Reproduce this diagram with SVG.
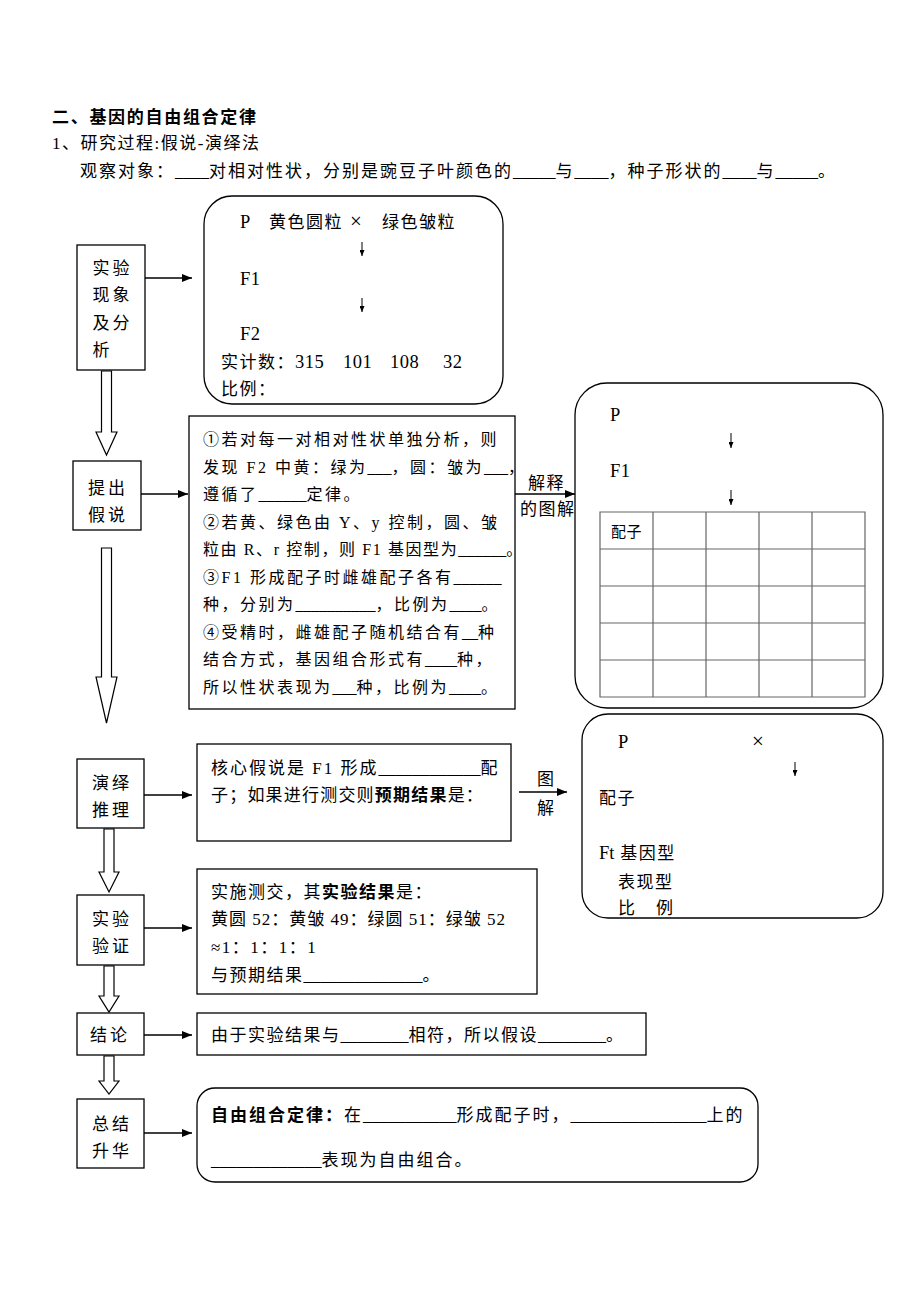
<svg xmlns="http://www.w3.org/2000/svg" width="920" height="1300" viewBox="0 0 920 1300">
<style>
.t{font-family:"Liberation Serif","Noto Sans CJK SC",serif;font-size:17px;fill:#000;letter-spacing:1.5px}
.s{font-size:16px;letter-spacing:2.5px}
.u{letter-spacing:0}
.L{font-size:18.5px;letter-spacing:0.5px}
.b{font-family:"Liberation Sans","Noto Sans CJK SC",sans-serif;font-weight:bold}
.lab{letter-spacing:3px}
.box{fill:#fff;stroke:#000;stroke-width:1.3}
.grid{fill:none;stroke:#666;stroke-width:1.2}
.hollow{fill:#fff;stroke:#000;stroke-width:1.2}
.conn{stroke:#000;stroke-width:1.6;fill:none;marker-end:url(#ah)}
.down{stroke:#000;stroke-width:1;fill:none;marker-end:url(#sm)}
</style>
<defs>
<marker id="ah" markerUnits="userSpaceOnUse" markerWidth="10" markerHeight="8" refX="10" refY="4" orient="auto">
<path d="M0,0 L10,4 L0,8 z" fill="#000"/>
</marker>
<marker id="sm" markerUnits="userSpaceOnUse" markerWidth="6" markerHeight="5" refX="6" refY="2.5" orient="auto">
<path d="M0,0 L6,2.5 L0,5 z" fill="#000"/>
</marker>
</defs>
<rect width="920" height="1300" fill="#fff"/>

<g id="header">
<text class="t b" x="52" y="123" style="letter-spacing:1.7px">二、基因的自由组合定律</text>
<text class="t" x="52" y="149">1、研究过程:假说-演绎法</text>
<text class="t" x="80" y="177" style="letter-spacing:2px">观察对象：<tspan class="u">____</tspan>对相对性状，分别是豌豆子叶颜色的<tspan class="u">_____</tspan>与<tspan class="u">____</tspan>，种子形状的<tspan class="u">____</tspan>与<tspan class="u">_____</tspan>。</text>
</g>

<g id="connectors">
<line class="conn" x1="145" y1="278" x2="192" y2="278"/>
<line class="conn" x1="141" y1="494" x2="188" y2="494"/>
<line class="conn" x1="515" y1="494" x2="575" y2="494"/>
<line class="conn" x1="144" y1="795" x2="192" y2="795"/>
<line class="conn" x1="519" y1="792" x2="567" y2="792"/>
<line class="conn" x1="144" y1="928" x2="192" y2="928"/>
<line class="conn" x1="144" y1="1035" x2="192" y2="1035"/>
<line class="conn" x1="144" y1="1133" x2="192" y2="1133"/>
<polygon class="hollow" points="101.5,371 111.5,371 111.5,432 117,432 106.5,455 96,432 101.5,432"/>
<polygon class="hollow" points="101.5,548 111.5,548 111.5,677 117,677 106.5,723 96,677 101.5,677"/>
<polygon class="hollow" points="104,829 114,829 114,872 119,872 109,892 99,872 104,872"/>
<polygon class="hollow" points="104,966 114,966 114,996 119,996 109,1012 99,996 104,996"/>
<polygon class="hollow" points="104,1056 114,1056 114,1081 119,1081 109,1094 99,1081 104,1081"/>
<text class="t" x="528" y="489">解释</text>
<text class="t" x="520" y="515">的图解</text>
<text class="t" x="537" y="785">图</text>
<text class="t" x="537" y="814">解</text>
</g>

<g id="n-observe">
<rect class="box" x="77" y="245" width="68" height="125"/>
<text class="t lab" x="92.5" y="274">实验</text>
<text class="t lab" x="92.5" y="301">现象</text>
<text class="t lab" x="92.5" y="329">及分</text>
<text class="t lab" x="92.5" y="356">析</text>
</g>

<g id="n-cross">
<rect class="box" x="204" y="196" width="299" height="208" rx="28"/>
<text class="t L" x="240" y="228">P</text>
<text class="t" x="269" y="228">黄色圆粒</text>
<text class="t" x="350" y="228" style="font-size:21px;letter-spacing:0">×</text>
<text class="t" x="382" y="228">绿色皱粒</text>
<line class="down" x1="362" y1="242" x2="362" y2="256"/>
<text class="t L" x="240" y="285">F1</text>
<line class="down" x1="362" y1="298" x2="362" y2="312"/>
<text class="t L" x="240" y="340">F2</text>
<text class="t" x="221" y="368">实计数：</text>
<text class="t L" x="295" y="368">315</text>
<text class="t L" x="343" y="368">101</text>
<text class="t L" x="390" y="368">108</text>
<text class="t L" x="443" y="368">32</text>
<text class="t" x="221" y="395">比例：</text>
</g>

<g id="n-hypo">
<rect class="box" x="73" y="461" width="68" height="69"/>
<text class="t lab" x="88" y="494">提出</text>
<text class="t lab" x="88" y="521">假说</text>
</g>

<g id="n-hypo-text">
<rect class="box" x="189" y="416" width="326" height="293"/>
<text class="t s" x="203" y="445">①若对每一对相对性状单独分析，则</text>
<text class="t s" x="203" y="473">发现 F2 中黄：绿为<tspan class="u">___</tspan>，圆：皱为<tspan class="u">___</tspan>，</text>
<text class="t s" x="203" y="500">遵循了<tspan class="u">______</tspan>定律。</text>
<text class="t s" x="203" y="528">②若黄、绿色由 Y、y 控制，圆、皱</text>
<text class="t s" x="203" y="555" style="letter-spacing:1.6px">粒由 R、r 控制，则 F1 基因型为<tspan class="u">______</tspan>。</text>
<text class="t s" x="203" y="583">③F1 形成配子时雌雄配子各有<tspan class="u">______</tspan></text>
<text class="t s" x="203" y="610">种，分别为<tspan class="u">__________</tspan>，比例为<tspan class="u">____</tspan>。</text>
<text class="t s" x="203" y="638">④受精时，雌雄配子随机结合有<tspan class="u">__</tspan>种</text>
<text class="t s" x="203" y="665">结合方式，基因组合形式有<tspan class="u">____</tspan>种，</text>
<text class="t s" x="203" y="693">所以性状表现为<tspan class="u">___</tspan>种，比例为<tspan class="u">____</tspan>。</text>
</g>

<g id="n-punnett">
<rect class="box" x="575" y="383" width="308" height="325" rx="32"/>
<text class="t L" x="610" y="421">P</text>
<line class="down" x1="731" y1="433" x2="731" y2="448"/>
<text class="t L" x="610" y="477">F1</text>
<line class="down" x1="731" y1="490" x2="731" y2="505"/>
<path class="grid" d="M600,512 H865 V697 H600 Z M600,549 H865 M600,586 H865 M600,623 H865 M600,660 H865 M653,512 V697 M706,512 V697 M759,512 V697 M812,512 V697"/>
<text class="t" x="611" y="537" style="font-size:15px;letter-spacing:0.5px">配子</text>
</g>

<g id="n-deduce">
<rect class="box" x="77" y="759" width="67" height="69"/>
<text class="t lab" x="92" y="789">演绎</text>
<text class="t lab" x="92" y="816">推理</text>
</g>

<g id="n-deduce-text">
<rect class="box" x="197" y="744" width="314" height="97"/>
<text class="t" x="211" y="774" style="letter-spacing:2px">核心假说是 F1 形成<tspan class="u">____________</tspan>配</text>
<text class="t" x="211" y="801" style="letter-spacing:1.2px">子；如果进行测交则<tspan class="b">预期结果</tspan>是：</text>
</g>

<g id="n-testcross">
<rect class="box" x="582" y="714" width="301" height="204" rx="26"/>
<text class="t L" x="618" y="748">P</text>
<text class="t" x="752" y="748" style="font-size:21px;letter-spacing:0">×</text>
<line class="down" x1="795" y1="762" x2="795" y2="776"/>
<text class="t" x="599" y="804">配子</text>
<text class="t" x="599" y="859"><tspan style="font-size:18.5px;letter-spacing:0">Ft</tspan> 基因型</text>
<text class="t" x="618" y="888">表现型</text>
<text class="t" x="618" y="914" style="letter-spacing:2px">比　例</text>
</g>

<g id="n-verify">
<rect class="box" x="77" y="895" width="67" height="70"/>
<text class="t lab" x="92" y="925">实验</text>
<text class="t lab" x="92" y="952">验证</text>
</g>

<g id="n-verify-text">
<rect class="box" x="197" y="869" width="340" height="125"/>
<text class="t" x="211" y="898">实施测交，其<tspan class="b">实验结果</tspan>是：</text>
<text class="t" x="211" y="925" style="letter-spacing:1px">黄圆 52：黄皱 49：绿圆 51：绿皱 52</text>
<text class="t" x="211" y="953">≈1：1：1：1</text>
<text class="t" x="211" y="981">与预期结果<tspan class="u">______________</tspan>。</text>
</g>

<g id="n-conclude">
<rect class="box" x="77" y="1013" width="67" height="42"/>
<text class="t lab" x="90" y="1041">结论</text>
</g>

<g id="n-conclude-text">
<rect class="box" x="197" y="1013" width="449" height="42"/>
<text class="t" x="211" y="1041">由于实验结果与<tspan class="u">________</tspan>相符，所以假设<tspan class="u">________</tspan>。</text>
</g>

<g id="n-summary">
<rect class="box" x="77" y="1099" width="67" height="69"/>
<text class="t lab" x="92" y="1130">总结</text>
<text class="t lab" x="92" y="1157">升华</text>
</g>

<g id="n-summary-text">
<rect class="box" x="197" y="1088" width="561" height="94" rx="18"/>
<text class="t" x="211" y="1121" style="letter-spacing:2px"><tspan class="b">自由组合定律：</tspan>在<tspan class="u">___________</tspan>形成配子时，<tspan class="u">________________</tspan>上的</text>
<text class="t" x="211" y="1166" style="letter-spacing:2px"><tspan class="u">_____________</tspan>表现为自由组合。</text>
</g>
</svg>
